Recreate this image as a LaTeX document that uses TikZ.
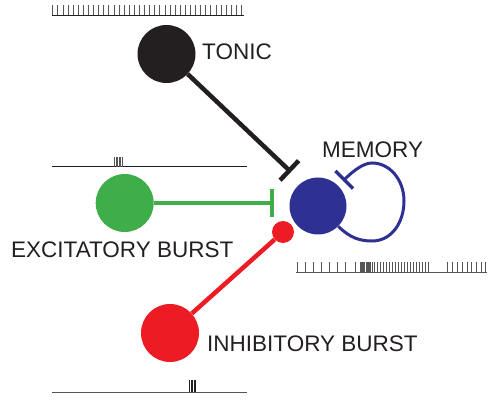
\documentclass[tikz,border=0pt]{standalone}
\usepackage{fontspec}
\setmainfont{Liberation Sans}
\usetikzlibrary{arrows.meta}

\definecolor{tonicblack}{HTML}{231F20}
\definecolor{excitgreen}{HTML}{3FAE49}
\definecolor{memblue}{HTML}{2E3192}
\definecolor{inhibred}{HTML}{ED1C24}
\definecolor{traingray}{HTML}{555555}

\begin{document}
\begin{tikzpicture}[x=1pt,y=-1pt]
      \tikzstyle{cell}=[circle, inner sep=0pt, minimum size=58pt]
      \tikzstyle{celltext}=[anchor=base west, inner sep=0pt, text=tonicblack, font=\fontsize{22.5}{27}\selectfont]
      \tikzstyle{tick}=[traingray, line width=0.8pt]
      \tikzstyle{axis}=[traingray, line width=1pt]
      \useasboundingbox (0,0) rectangle (488,401);
      % cells
      \node [cell, fill=tonicblack] (tonic) at (166.5,54) {};
      \node [cell, fill=excitgreen] (excit) at (124.7,203) {};
      \node [cell, fill=memblue, minimum size=57pt] (memory) at (318,206) {};
      \node [cell, fill=inhibred] (inhib) at (170,333) {};
      \node [circle, inner sep=0pt, minimum size=22pt, fill=inhibred] (inhibsyn) at (283,232) {};
      % labels
      \node [celltext] (tonictext) at (202,60) {TONIC};
      \node [celltext] (memorytext) at (322,158) {MEMORY};
      \node [celltext] (excittext) at (11,258) {EXCITATORY BURST};
      \node [celltext] (inhibtext) at (207,351) {INHIBITORY BURST};
      % synapses
      \coordinate (tonicend) at (291,172);
      \coordinate (excitend) at (274,203);
      \draw [tonicblack, line width=4.5pt, -{Bar[width=27pt,line width=4.5pt]}] (tonic) -- (tonicend);
      \draw [excitgreen, line width=4.5pt, -{Bar[width=28pt,line width=4.5pt]}] (excit) -- (excitend);
      \draw [inhibred, line width=4.5pt] (inhib) -- (inhibsyn);
      \draw [memblue, line width=3pt, -{Bar[width=25pt,line width=3.5pt]}] (memory.-45)
            .. controls (350,238) and (360,241) .. (372,241)
            .. controls (392,241) and (404,222) .. (404,201)
            .. controls (404,180) and (390,163) .. (372,163)
            .. controls (364,163) and (354,170) .. (343,181);
      % tonic train
      \draw [axis, tonicblack] (52,15.5) -- (244,15.5);
      \foreach \i in {0,...,37}
        \draw [tick] (52.7+5.1*\i,5) -- (52.7+5.1*\i,15.5);
      % excitatory train
      \draw [axis, tonicblack] (52,167) -- (247,167);
      \foreach \x in {114.5,116,...,122.5}
        \draw [tick] (\x,157) -- (\x,167);
      % memory train
      \draw [axis] (296,272.5) -- (487,272.5);
      \foreach \x in {297,305,313,321,329,337,345,355,360,361.2,...,372,374.5,377.5,...,431,447.7,452.3,457.7,462.3,467,471.7,476.3,481,485}
        \draw [tick] (\x,262) -- (\x,272.5);
      % inhibitory train
      \draw [axis] (52,392) -- (247,392);
      \foreach \x in {189.5,191,...,196.5}
        \draw [tick, tonicblack] (\x,379.5) -- (\x,392);
\end{tikzpicture}
\end{document}
